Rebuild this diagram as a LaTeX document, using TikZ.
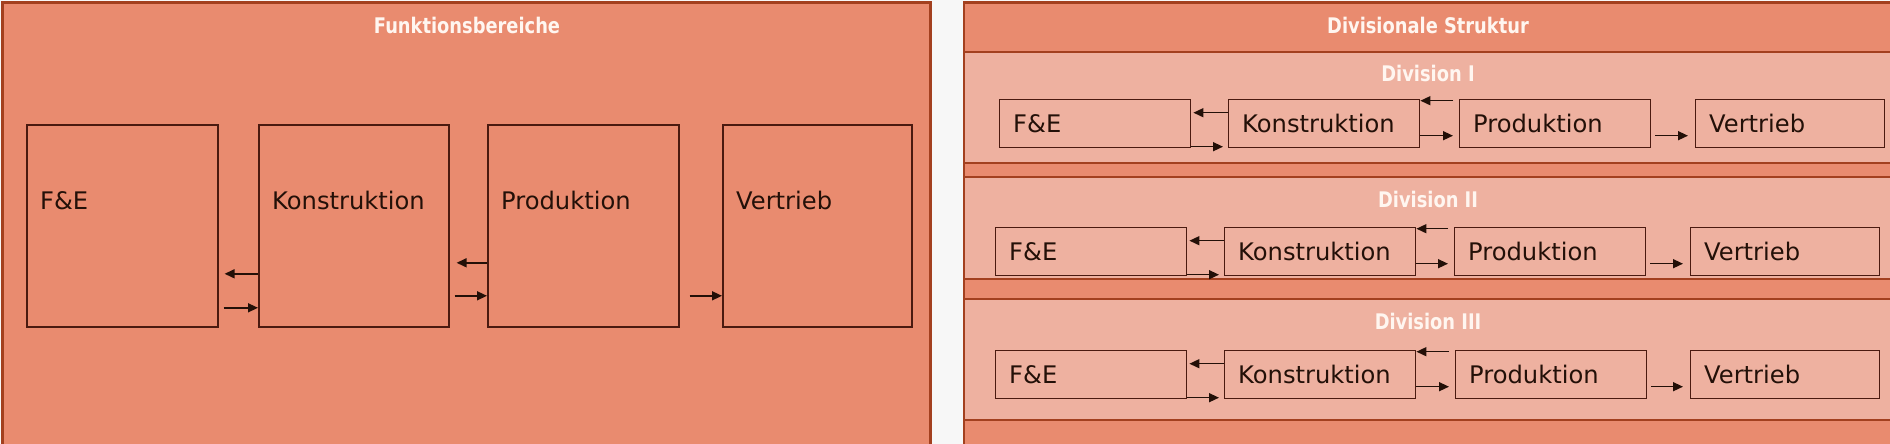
\documentclass[tikz,border=0pt]{standalone}
\usepackage{fontspec}
\setmainfont{DejaVu Sans}
\newfontfamily\ttlfont[FakeStretch=0.83]{DejaVu Sans}
\usetikzlibrary{arrows.meta}
\definecolor{pagebg}{HTML}{F7F7F7}
\definecolor{salmon}{HTML}{E98B6F}
\definecolor{lightband}{HTML}{EEB1A0}
\definecolor{rust}{HTML}{A3401F}
\definecolor{boxline}{HTML}{4A1A10}
\definecolor{ink}{HTML}{231008}
\definecolor{ttlwhite}{HTML}{FFF6F0}
\tikzset{
  panel/.style={fill=salmon, draw=rust, line width=2.5pt},
  band/.style={fill=lightband, draw=rust, line width=2.5pt},
  lbox/.style={draw=boxline, line width=1.6pt, fill=salmon, inner sep=0pt, minimum height=202pt, anchor=north west},
  dbox/.style={draw=boxline, line width=1.4pt, fill=lightband, inner sep=0pt, minimum height=48pt, anchor=north west},
  btext/.style={font=\fontsize{24.2}{28}\selectfont, text=ink, inner sep=0pt, anchor=base west},
  ttl/.style={font=\ttlfont\bfseries\fontsize{21.5}{25}\selectfont, text=ttlwhite, inner sep=0pt, anchor=base},
  arr/.style={-{Triangle[length=10pt,width=9pt]}, line width=1.5pt, draw=ink},
}
\newcommand{\DivRow}[6]{%
  \node[dbox, minimum width=191pt] (#1F) at (#3,#2-24) {};
  \node[dbox, minimum width=191pt] (#1K) at (#4,#2-24) {};
  \node[dbox, minimum width=191pt] (#1P) at (#5,#2-24) {};
  \node[dbox, minimum width=189pt] (#1V) at (#6,#2-24) {};
  \node[btext] (#1Ft) at ([xshift=14pt,yshift=-8.8pt]#1F.west) {F\&E};
  \node[btext] (#1Kt) at ([xshift=14pt,yshift=-8.8pt]#1K.west) {Konstruktion};
  \node[btext] (#1Pt) at ([xshift=14pt,yshift=-8.8pt]#1P.west) {Produktion};
  \node[btext] (#1Vt) at ([xshift=14pt,yshift=-8.8pt]#1V.west) {Vertrieb};
  \draw[arr] ([yshift=11pt]#1K.west) -- ([xshift=2pt,yshift=11pt]#1F.east);
  \draw[arr] ([yshift=-23pt]#1F.east) -- ([xshift=-5pt,yshift=-23pt]#1K.west);
  \draw[arr] ([xshift=-6pt,yshift=23pt]#1P.west) -- ([yshift=23pt]#1K.east);
  \draw[arr] ([yshift=-12pt]#1K.east) -- ([xshift=-6pt,yshift=-12pt]#1P.west);
  \draw[arr] ([xshift=4pt,yshift=-12pt]#1P.east) -- ([xshift=-7pt,yshift=-12pt]#1V.west);
}
\begin{document}
\begin{tikzpicture}[x=1pt,y=-1pt]
  \fill[pagebg] (0,0) rectangle (1890,444);
  \useasboundingbox (0,0) rectangle (1890,444);
  \clip (0,0) rectangle (1890,444);
  % left panel
  \draw[panel] (2.7,2.7) rectangle (930.7,470);
  \node[ttl] (ttlL) at (467,33.8) {Funktionsbereiche};
  \node[lbox, minimum width=191pt] (LF) at (26,124) {};
  \node[lbox, minimum width=190pt] (LK) at (258,124) {};
  \node[lbox, minimum width=191pt] (LP) at (487,124) {};
  \node[lbox, minimum width=189pt] (LV) at (722,124) {};
  \node[btext] (LFt) at ([xshift=14pt,yshift=16pt]LF.west) {F\&E};
  \node[btext] (LKt) at ([xshift=14pt,yshift=16pt]LK.west) {Konstruktion};
  \node[btext] (LPt) at ([xshift=14pt,yshift=16pt]LP.west) {Produktion};
  \node[btext] (LVt) at ([xshift=14pt,yshift=16pt]LV.west) {Vertrieb};
  \draw[arr] ([yshift=-48pt]LK.west) -- ([xshift=6pt,yshift=-48pt]LF.east);
  \draw[arr] ([xshift=5pt,yshift=-82pt]LF.east) -- ([yshift=-82pt]LK.west);
  \draw[arr] ([yshift=-37pt]LP.west) -- ([xshift=7pt,yshift=-37pt]LK.east);
  \draw[arr] ([xshift=5pt,yshift=-70pt]LK.east) -- ([yshift=-70pt]LP.west);
  \draw[arr] ([xshift=10pt,yshift=-70pt]LP.east) -- ([yshift=-70pt]LV.west);
  % right panel
  \draw[panel] (964,2.7) rectangle (1900,470);
  \node[ttl] (ttlR) at (1428,33.8) {Divisionale Struktur};
  \draw[band] (964,52) rectangle (1900,163);
  \draw[band] (964,177) rectangle (1900,279);
  \draw[band] (964,299) rectangle (1900,420);
  \node[ttl] (ttl1) at (1428,81.5) {Division I};
  \node[ttl] (ttl2) at (1428,207.5) {Division II};
  \node[ttl] (ttl3) at (1428,329.5) {Division III};
  \DivRow{A}{123}{999}{1228}{1459}{1695}
  \DivRow{B}{251}{995}{1224}{1454}{1690}
  \DivRow{C}{374}{995}{1224}{1455}{1690}
\end{tikzpicture}
\end{document}
